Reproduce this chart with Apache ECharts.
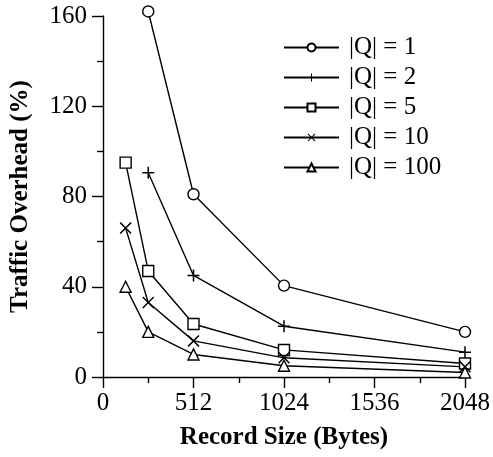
<!DOCTYPE html>
<html>
<head>
<meta charset="utf-8">
<script src="https://cdn.jsdelivr.net/npm/echarts@6/dist/echarts.min.js"></script>
<style>
html,body{margin:0;padding:0;background:#fff;}
#c{width:493px;height:457px;}
</style>
</head>
<body>
<div id="c"></div>
<script>
// Data
const seriesNames = ['|Q| = 1', '|Q| = 2', '|Q| = 5', '|Q| = 10', '|Q| = 100'];
const xShort = [256, 512, 1024, 2048];
const xLong = [128, 256, 512, 1024, 2048];
const yQ1 = [162, 81, 40.5, 20];
const yQ2 = [90.5, 45, 22.5, 11];
const yQ5 = [95, 47, 23.5, 12, 6];
const yQ10 = [66, 33, 16, 8.5, 4.5];
const yQ100 = [40, 20, 10, 5, 2];
const xTicks = [0, 512, 1024, 1536, 2048];
const yTicks = [0, 40, 80, 120, 160];

const FONT = '"Liberation Serif", "Times New Roman", serif';
const PLUS = 'path://M7,0 H9 V7 H16 V9 H9 V16 H7 V9 H0 V7 H7 Z';
const CROSS = 'path://M0,1.4 L1.4,0 L8,6.6 L14.6,0 L16,1.4 L9.4,8 L16,14.6 L14.6,16 L8,9.4 L1.4,16 L0,14.6 L6.6,8 Z';

function pairs(xs, ys) { return xs.map((x, i) => [x, ys[i]]); }

function mk(name, xs, ys, symbol, size, hollow) {
  return {
    name: name,
    type: 'line',
    data: pairs(xs, ys),
    symbol: symbol,
    symbolSize: size,
    clip: false,
    lineStyle: { color: '#000', width: 1.4 },
    itemStyle: hollow
      ? { color: '#fff', borderColor: '#000', borderWidth: 1.4 }
      : { color: '#000', borderWidth: 0 },
    emphasis: { disabled: true },
    z: 3
  };
}

const chart = echarts.init(document.getElementById('c'), null, { renderer: 'canvas' });
chart.setOption({
  animation: false,
  backgroundColor: '#fff',
  grid: { left: 101, right: 28, top: 16, bottom: 80, containLabel: false },
  legend: {
    left: 278,
    top: 30,
    orient: 'vertical',
    itemWidth: 55,
    itemHeight: 10,
    itemGap: 5,
    textStyle: { fontFamily: FONT, fontSize: 25, color: '#000', lineHeight: 25, padding: [0, 0, 0, 5] },
    data: seriesNames
  },
  xAxis: {
    type: 'value',
    min: 0, max: 2048, interval: 512,
    name: 'Record Size (Bytes)',
    nameLocation: 'middle',
    nameGap: 48,
    nameTextStyle: { fontFamily: FONT, fontSize: 25, fontWeight: 'bold', color: '#000' },
    axisLine: { show: true, onZero: false, lineStyle: { color: '#000', width: 1.4 } },
    axisTick: { show: true, inside: false, length: 11, lineStyle: { color: '#000', width: 1.4 } },
    minorTick: { show: true, splitNumber: 2, length: 6, lineStyle: { color: '#000', width: 1.4 } },
    splitLine: { show: false },
    axisLabel: { fontFamily: FONT, fontSize: 25, color: '#000', margin: 14,
      formatter: v => xTicks.includes(v) ? String(v) : '' }
  },
  yAxis: {
    type: 'value',
    min: 0, max: 160, interval: 40,
    name: 'Traffic Overhead (%)',
    nameLocation: 'middle',
    nameGap: 70,
    nameTextStyle: { fontFamily: FONT, fontSize: 25, fontWeight: 'bold', color: '#000' },
    axisLine: { show: true, onZero: false, lineStyle: { color: '#000', width: 1.4 } },
    axisTick: { show: true, inside: false, length: 11, lineStyle: { color: '#000', width: 1.4 } },
    minorTick: { show: true, splitNumber: 2, length: 6, lineStyle: { color: '#000', width: 1.4 } },
    splitLine: { show: false },
    axisLabel: { fontFamily: FONT, fontSize: 25, color: '#000', margin: 16,
      formatter: v => yTicks.includes(v) ? String(v) : '' }
  },
  series: [
    mk(seriesNames[0], xShort, yQ1, 'circle', 11, true),
    mk(seriesNames[1], xShort, yQ2, PLUS, 12, false),
    mk(seriesNames[2], xLong, yQ5, 'rect', 11, true),
    mk(seriesNames[3], xLong, yQ10, CROSS, 12, false),
    mk(seriesNames[4], xLong, yQ100, 'triangle', 11, true)
  ]
});
</script>
</body>
</html>
